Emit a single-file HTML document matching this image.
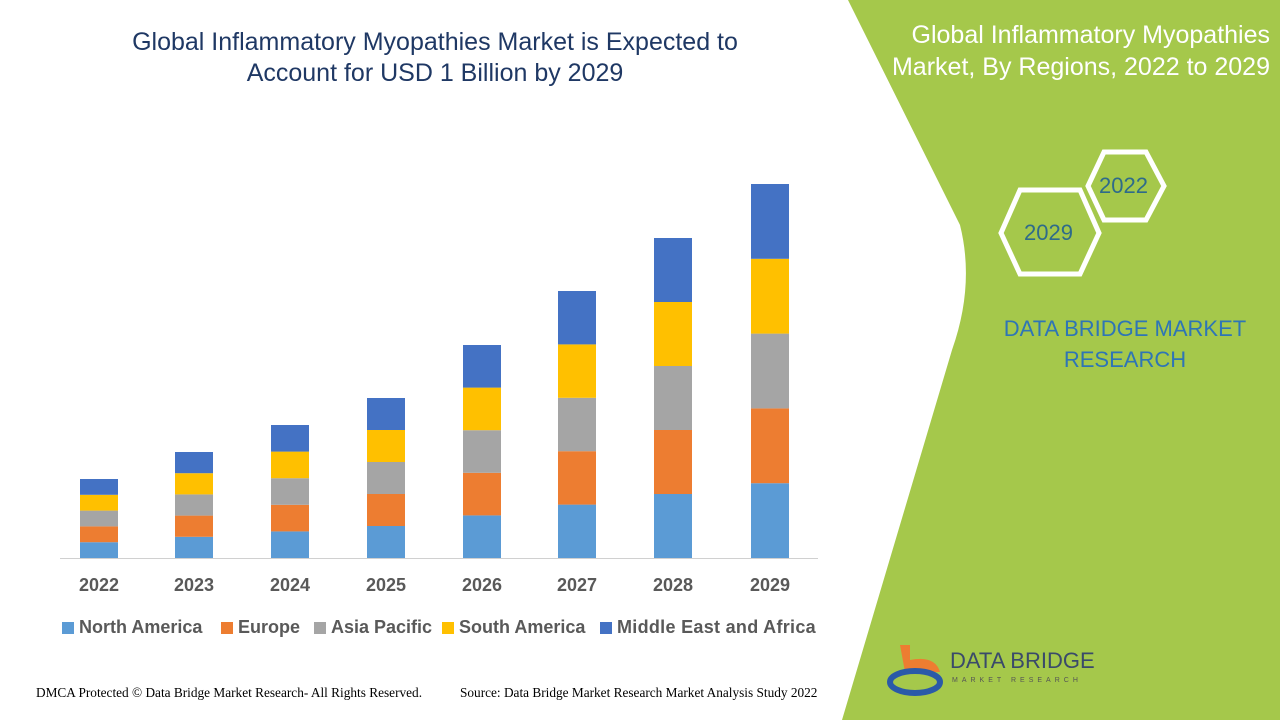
<!DOCTYPE html>
<html><head><meta charset="utf-8"><style>
body{margin:0;width:1280px;height:720px;overflow:hidden;background:#fff;font-family:"Liberation Sans",sans-serif;position:relative}
.t{position:absolute;white-space:nowrap}
</style></head><body>
<svg width="1280" height="720" style="position:absolute;left:0;top:0">
<path d="M848,0 L1280,0 L1280,720 L842,720 L952,350 Q975,285 960,225 Z" fill="#a5c84b"/>
<line x1="60" y1="558.5" x2="818" y2="558.5" stroke="#d0d0d0" stroke-width="1"/>
<g id="bars"></g>
<polygon points="1088,186 1104,152 1146,152 1164,186 1146,220 1104,220" fill="none" stroke="#fff" stroke-width="5"/>
<polygon points="1001,233 1020,190 1080,190 1099,233 1080,274 1020,274" fill="none" stroke="#fff" stroke-width="5"/>
<rect x="62" y="622" width="12" height="12" fill="#5b9bd5"/>
<rect x="221" y="622" width="12" height="12" fill="#ed7d31"/>
<rect x="314" y="622" width="12" height="12" fill="#a5a5a5"/>
<rect x="442" y="622" width="12" height="12" fill="#ffc000"/>
<rect x="600" y="622" width="12" height="12" fill="#4472c4"/>
<path d="M900,645 L910,645 L910,660 Q935,655 940,672 L905,672 Z" fill="#ed7d31"/>
<ellipse cx="915" cy="682" rx="25" ry="11" fill="none" stroke="#2a5aa8" stroke-width="6"/>
</svg>
<div class="t" style="left:0;width:870px;text-align:center;top:27px;font-size:25px;line-height:31px;color:#1f3864">Global Inflammatory Myopathies Market is Expected to<br>Account for USD 1 Billion by 2029</div>
<div class="t" style="right:10px;top:19px;font-size:25px;line-height:32px;color:#fff;text-align:right">Global Inflammatory Myopathies<br>Market, By Regions, 2022 to 2029</div>
<div class="t" style="left:1099px;top:173px;font-size:22px;color:#2e6b8a">2022</div>
<div class="t" style="left:1024px;top:220px;font-size:22px;color:#2e6b8a">2029</div>
<div class="t" style="left:990px;width:270px;text-align:center;top:313px;font-size:22px;line-height:31px;color:#2e75b6">DATA BRIDGE MARKET<br>RESEARCH</div>
<div class="t" style="left:950px;top:648px;font-size:22px;color:#3a4a6a">DATA BRIDGE</div>
<div class="t" style="left:952px;top:677px;font-size:7px;letter-spacing:4px;color:#555">MARKET RESEARCH</div>
<div id="yr"></div>
<div class="t" style="left:79px;top:617px;font-size:18px;font-weight:bold;color:#595959">North America</div>
<div class="t" style="left:238px;top:617px;font-size:18px;font-weight:bold;color:#595959">Europe</div>
<div class="t" style="left:331px;top:617px;font-size:18px;font-weight:bold;color:#595959">Asia Pacific</div>
<div class="t" style="left:459px;top:617px;font-size:18px;font-weight:bold;color:#595959">South America</div>
<div class="t" style="left:617px;top:617px;font-size:18px;font-weight:bold;color:#595959;letter-spacing:0.3px">Middle East and Africa</div>
<div class="t" style="left:36px;top:685px;font-size:13.3px;font-family:'Liberation Serif',serif;color:#000">DMCA Protected © Data Bridge Market Research- All Rights Reserved.</div>
<div class="t" style="left:460px;top:685px;font-size:13.3px;font-family:'Liberation Serif',serif;color:#000">Source: Data Bridge Market Research Market Analysis Study 2022</div>
<script>
var cx=[99,194,290,386,482,577,673,770],tops=[479,452,425,398,345,291,238,184],yrs=[2022,2023,2024,2025,2026,2027,2028,2029];
var cols=["#5b9bd5","#ed7d31","#a5a5a5","#ffc000","#4472c4"],g="",h="";
for(var i=0;i<8;i++){var s=(558-tops[i])/5;for(var k=0;k<5;k++){g+='<rect x="'+(cx[i]-19)+'" y="'+(558-s*(k+1))+'" width="38" height="'+s+'" fill="'+cols[k]+'"/>';}
h+='<div class="t" style="left:'+(cx[i]-30)+'px;width:60px;text-align:center;top:575px;font-size:18px;font-weight:bold;color:#595959">'+yrs[i]+'</div>';}
document.getElementById("bars").innerHTML=g;document.getElementById("yr").innerHTML=h;
</script>
</body></html>
